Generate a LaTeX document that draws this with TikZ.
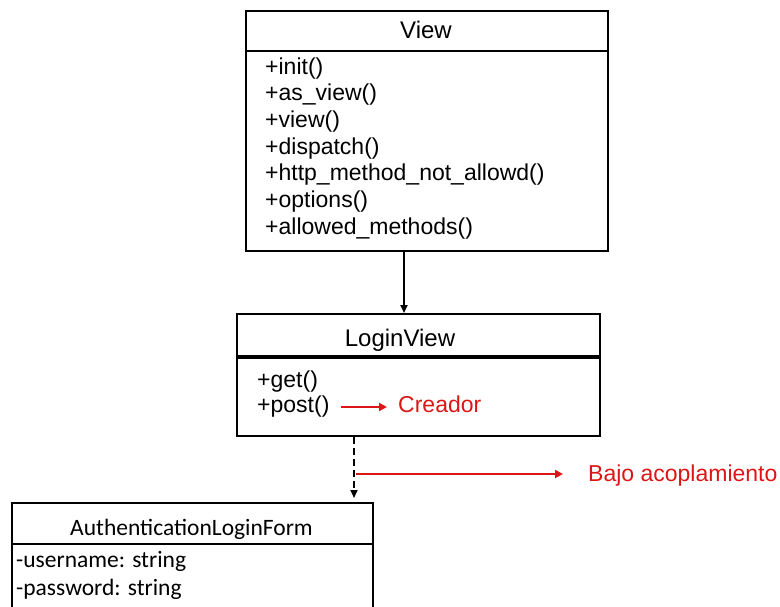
\documentclass[tikz,border=0pt]{standalone}
\usepackage{fontspec}
\setmainfont{Liberation Sans}
\newfontfamily\calib{Carlito}
\usetikzlibrary{arrows.meta}
\definecolor{accent}{RGB}{220,22,22}
\tikzset{
  box/.style={draw=black, line width=2pt, inner sep=0pt, anchor=north west},
  ttl/.style={inner sep=0pt, anchor=base, font=\fontsize{24}{28}\selectfont},
  member/.style={inner sep=0pt, anchor=base west, font=\fontsize{23}{27}\selectfont},
  formtxt/.style={inner sep=0pt, font=\calib\fontsize{23.5}{28}\selectfont},
  note/.style={inner sep=0pt, anchor=base west, text=accent, font=\fontsize{23}{27}\selectfont},
  inherit/.style={line width=2pt, -{Triangle[width=7pt,length=8pt]}},
  depend/.style={line width=1.8pt, dash pattern=on 7pt off 4pt, -{Triangle[width=7pt,length=8pt]}},
  pointer/.style={line width=2.2pt, draw=accent, -{Triangle[width=8pt,length=8pt]}}
}
\begin{document}
\begin{tikzpicture}[x=1pt, y=-1pt]
  \useasboundingbox (0,0) rectangle (780,606);
  \clip (0,0) rectangle (780,606);

  % View class
  \node[box, minimum width=362pt, minimum height=40pt] (view) at (245,10) {};
  \node[box, minimum width=362pt, minimum height=200pt] (viewbody) at (245,50) {};
  \node[ttl] (viewname) at (426,38) {View};
  \node[member] (m1) at (265,74) {+init()};
  \node[member] (m2) at (265,100.7) {+as\_view()};
  \node[member] (m3) at (265,127.3) {+view()};
  \node[member] (m4) at (265,154) {+dispatch()};
  \node[member] (m5) at (265,180.7) {+http\_method\_not\_allowd()};
  \node[member] (m6) at (265,207.3) {+options()};
  \node[member] (m7) at (265,234) {+allowed\_methods()};

  % LoginView class
  \node[box, minimum width=363pt, minimum height=44pt] (login) at (236,313) {};
  \node[box, minimum width=363pt, minimum height=78pt] (loginbody) at (236,357) {};
  \draw[line width=3.6pt] (loginbody.north west) -- (loginbody.north east);
  \node[ttl] (loginname) at (400,346) {LoginView};
  \node[member] (get) at (257,387) {+get()};
  \node[member] (post) at (257,412) {+post()};
  \node[note] (creador) at (398,412) {Creador};

  % AuthenticationLoginForm class
  \node[box, minimum width=361pt, minimum height=41pt] (auth) at (11,502) {};
  \node[box, minimum width=361pt, minimum height=100pt] (authbody) at (11,543) {};
  \node[formtxt, anchor=base] (authname) at (191.5,535) {AuthenticationLoginForm};
  \node[formtxt, anchor=base west] (a1) at (16,567) {-username: string};
  \node[formtxt, anchor=base west] (a2) at (16,595) {-password: string};

  % connectors
  \draw[inherit] ([xshift=159pt]viewbody.south west) -- ([xshift=168pt]login.north west);
  \draw[depend, shorten >=4pt] ([xshift=118pt]loginbody.south west) -- ([xshift=343pt]auth.north west);
  \draw[pointer] ([shift={(11,-5)}]post.base east) -- ([shift={(-11,-5)}]creador.base west);

  \node[note] (bajo) at (588,481) {Bajo acoplamiento};
  \coordinate (tap) at (356,474);
  \draw[pointer] (tap) -- ([shift={(-25,-7)}]bajo.base west);
\end{tikzpicture}
\end{document}
